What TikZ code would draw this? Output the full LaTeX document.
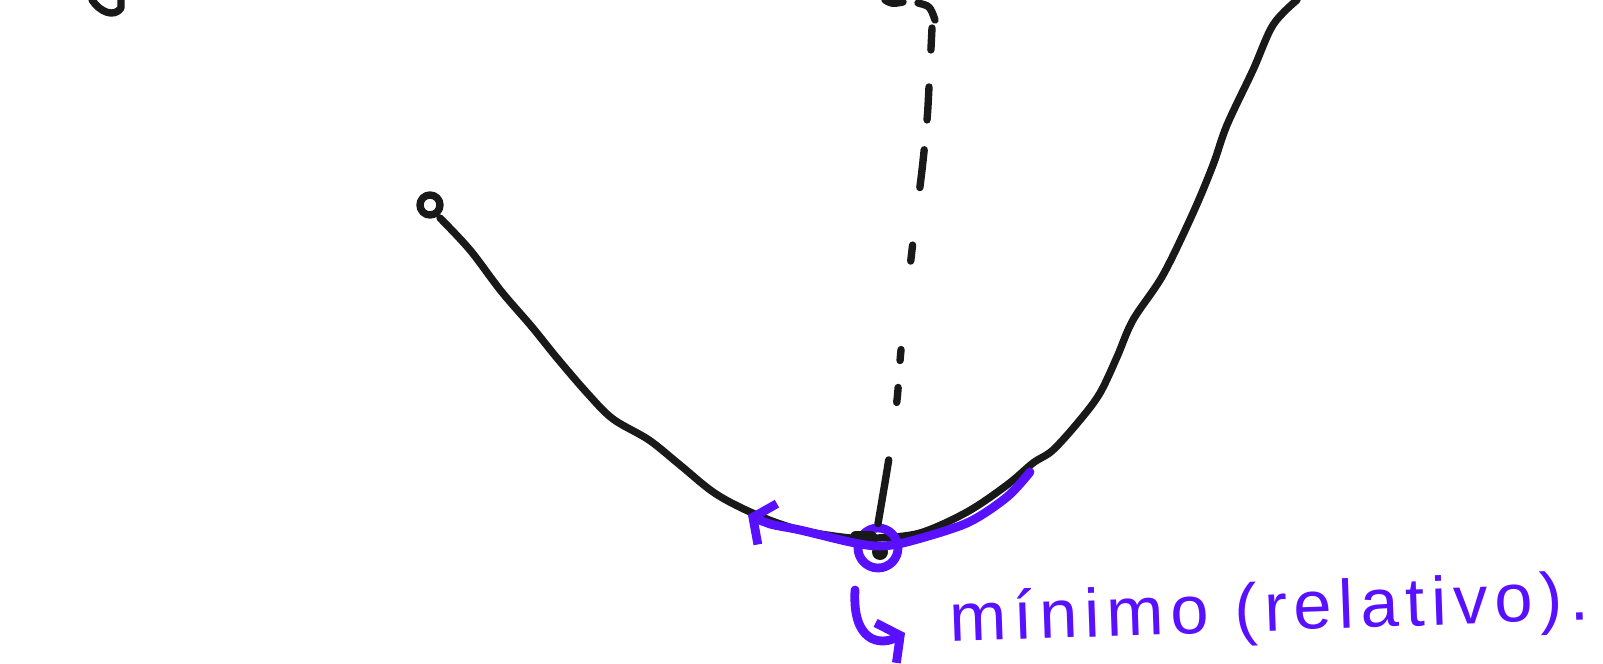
\documentclass[tikz,border=0pt]{standalone}
\usepackage{fontspec}
\newfontfamily\handfont[LetterSpace=10]{Liberation Sans}
\usetikzlibrary{arrows.meta}
\definecolor{violetink}{RGB}{88,16,255}

\begin{document}
\begin{tikzpicture}[x=0.01cm,y=-0.01cm,line cap=round,line join=round,
    ink/.style={draw=black!90,line width=2.1pt},
    blueink/.style={draw=violetink,line width=2.5pt},
    tick/.style={-{Straight Barb[length=1.6mm,width=4.5mm]}}]
    \useasboundingbox (0,0) rectangle (1603,664);

    % pieces cut off at the top
    \draw[ink] (92,0) .. controls (100,12) and (114,18) .. (121,8) -- (121,0);
    \draw[ink] (885,0) .. controls (892,4) .. (903,2);
    \draw[ink] (918,3) .. controls (930,6) .. (935,20);

    % start point and the curve
    \node[ink,circle,inner sep=0pt,minimum size=0.2cm] (start) at (430,205) {};
    \draw[ink] plot[smooth,tension=0.55] coordinates {(440,218) (470,250) (501,291)
        (532,327) (557,358) (588,394) (613,419) (649,440) (680,465) (716,494)
        (757,515) (800,530) (850,538) (878,538) (920,533) (967,512) (1007,485)
        (1033,463) (1053,450) (1080,420) (1100,393) (1117,357) (1133,320)
        (1163,275) (1193,213) (1213,165) (1227,125) (1253,70) (1273,25) (1297,0)};

    % minimum
    \node[blueink,circle,inner sep=0pt,minimum size=0.4cm] (minpt) at (878,548) {};
    \fill[black!90] (880,552) circle (8);
    \draw[ink,line width=3.5pt] (856,537) -- (871,537);

    % dashed line down to the minimum
    \coordinate (ytop) at (932,28);
    \draw[ink,dash pattern=on 2.2mm off 3.7mm on 3.3mm off 3mm on 3.8mm off 5.8mm
        on 1.6mm off 8.9mm on 1.1mm off 2.7mm on 1.5mm off 5.8mm on 8mm off 1mm]
        plot[smooth] coordinates {(ytop) (929,87) (927,120) (922,170) (912,250)
        (901,350) (897,400) (889,458) (minpt.north)};

    % blue double arrow along the curve
    \draw[blueink,tick,{Straight Barb[length=1.6mm,width=4.5mm]}-]
        plot[smooth] coordinates {(748,515) (770,524) (800,530) (850,542)
        (878,546) (907,542) (967,523) (1007,497) (1030,472)};

    % label
    \coordinate (hookA) at (855,590);
    \coordinate (hookB) at (905,633);
    \draw[blueink,tick] (hookA) .. controls (852,642) and (880,646) .. (hookB);
    \node[anchor=base west,rotate=2,inner sep=0pt,text=violetink,
        font=\handfont\fontsize{19.5}{24}\selectfont] (label) at (950,642)
        {mínimo (relativo).};
\end{tikzpicture}
\end{document}
